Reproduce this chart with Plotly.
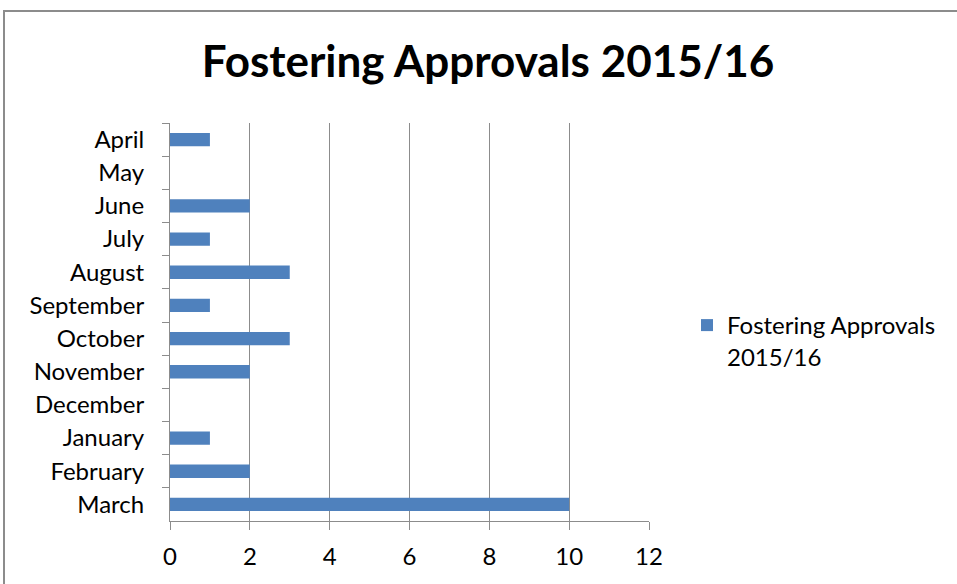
import plotly.graph_objects as go

months = ["April", "May", "June", "July", "August", "September", "October",
          "November", "December", "January", "February", "March"]
approvals = [1, 0, 2, 1, 3, 1, 3, 2, 0, 1, 2, 10]
series_name = "Fostering Approvals<br>2015/16"
title_text = "Fostering Approvals 2015/16"
x_ticks = [0, 2, 4, 6, 8, 10, 12]

W, H = 957, 584
L, R, T, B = 170, 649, 123, 521

fig = go.Figure()
fig.add_trace(go.Bar(
    y=months, x=approvals, orientation="h", name=series_name,
    marker=dict(color="#4F81BD", line=dict(width=0)),
    showlegend=True,
))

font = "Lato, 'Open Sans', sans-serif"
fs = 24
fig.update_layout(
    width=W, height=H,
    margin=dict(l=L, r=W - R, t=T, b=H - B, pad=0, autoexpand=False),
    paper_bgcolor="white", plot_bgcolor="white",
    bargap=0.6,
    font=dict(family=font, size=fs, color="#000000"),
    title=dict(text="<b>" + title_text + "</b>", x=488 / W, xanchor="center",
               y=1 - 62 / H, yanchor="middle",
               font=dict(family=font, size=44, color="#000000")),
    xaxis=dict(range=[0, 12], tickvals=x_ticks, showgrid=True, gridcolor="#8c8c8c", gridwidth=1,
               showline=True, linecolor="#8c8c8c", linewidth=1, ticks="outside", ticklen=8,
               tickcolor="#8c8c8c", zeroline=False, fixedrange=True,
               tickfont=dict(family=font, size=fs), ticklabelstandoff=6, mirror=False),
    yaxis=dict(autorange="reversed", type="category", categoryorder="array", categoryarray=months,
               showline=True, linecolor="#8c8c8c", linewidth=1, ticks="outside", ticklen=7,
               tickcolor="#8c8c8c", tickson="boundaries", showgrid=False,
               tickfont=dict(family=font, size=fs), ticklabelstandoff=20),
    legend=dict(x=(687 - L) / (R - L), y=(B - 303) / (B - T), xanchor="left", yanchor="top",
                valign="top",
                font=dict(family=font, size=fs), bgcolor="rgba(0,0,0,0)", itemwidth=30,
                tracegroupgap=0),
    shapes=[dict(type="rect", xref="paper", yref="paper",
                 x0=(4 - L) / (R - L), x1=3, y0=-2, y1=(B - 11) / (B - T),
                 line=dict(color="#8c8c8c", width=2), fillcolor="rgba(0,0,0,0)", layer="below")],
)

fig.write_html("out.html", config={"displayModeBar": False},
               post_script="document.body.style.margin='0';document.body.style.overflow='hidden';")
